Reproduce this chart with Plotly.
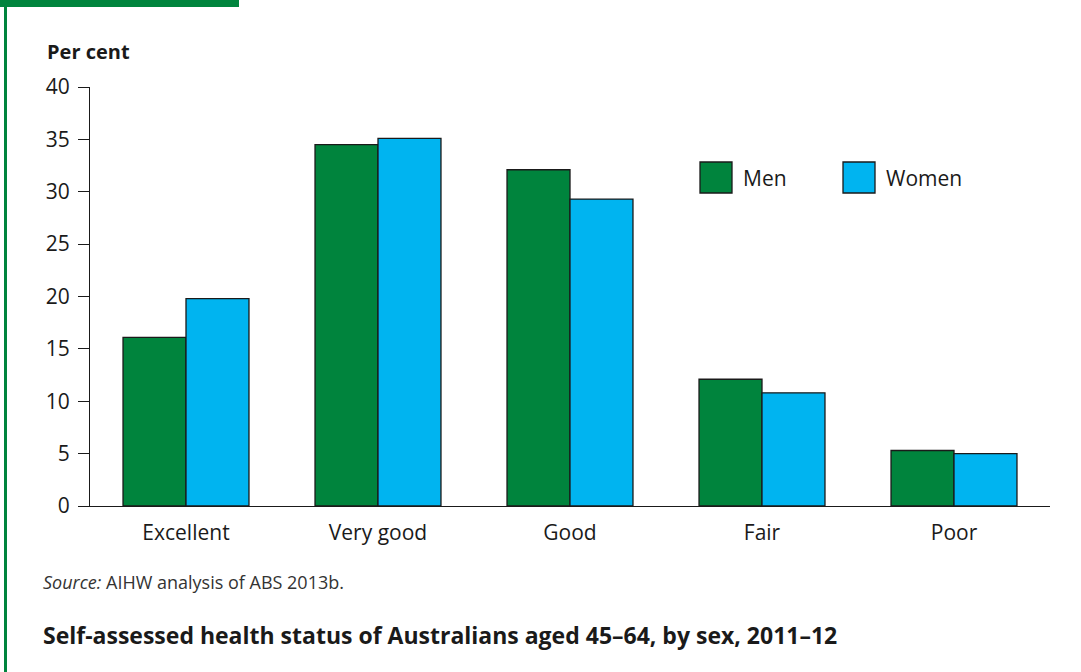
import plotly.graph_objects as go

categories = ["Excellent", "Very good", "Good", "Fair", "Poor"]
men = [16.1, 34.5, 32.1, 12.1, 5.3]
women = [19.8, 35.1, 29.3, 10.8, 5.0]
y_ticks = [0, 5, 10, 15, 20, 25, 30, 35, 40]

GREEN = "#00843D"
BLUE = "#00B4F0"
FONT = "Open Sans"

fig = go.Figure()
fig.add_trace(go.Bar(x=categories, y=men, name="Men", marker=dict(color=GREEN, line=dict(color="#1a1a1a", width=1.3))))
fig.add_trace(go.Bar(x=categories, y=women, name="Women", marker=dict(color=BLUE, line=dict(color="#1a1a1a", width=1.3))))

fig.update_layout(
    width=1081, height=672,
    margin=dict(l=90, r=31, t=87, b=166),
    paper_bgcolor="white", plot_bgcolor="white",
    barmode="group", bargap=0.344, bargroupgap=0,
    showlegend=False,
    font=dict(family=FONT, color="#1a1a1a", size=21),
    xaxis=dict(
        range=[-0.5, 4.5], showline=True, linecolor="#1a1a1a", linewidth=1.3,
        ticks="", tickfont=dict(size=21), ticklabelstandoff=8, fixedrange=True,
    ),
    yaxis=dict(
        range=[0, 40], tickvals=y_ticks, showline=True, linecolor="#1a1a1a", linewidth=1.3,
        ticks="outside", ticklen=11, tickwidth=1.3, tickcolor="#1a1a1a",
        showgrid=False, zeroline=False, tickfont=dict(size=21), ticklabelstandoff=4,
    ),
)

# frame decoration: green tab on top and green rule down the left side
fig.add_shape(type="rect", xref="paper", yref="paper", x0=-90/960, x1=149/960, y0=1 + 80/419, y1=1 + 87/419,
              fillcolor=GREEN, line=dict(width=0), layer="above")
fig.add_shape(type="line", xref="paper", yref="paper", x0=-84.5/960, x1=-84.5/960, y0=-166/419, y1=1 + 87/419,
              line=dict(color=GREEN, width=3))

# legend: coloured boxes with labels
def px_x(p):
    return (p - 90) / 960

def px_y(p):
    return (506 - p) / 419

for x0, color, label in [(700, GREEN, "Men"), (843, BLUE, "Women")]:
    fig.add_shape(type="rect", xref="paper", yref="paper", x0=px_x(x0), x1=px_x(x0 + 32),
                  y0=px_y(193), y1=px_y(162), fillcolor=color, line=dict(color="#1a1a1a", width=1.3))
    fig.add_annotation(xref="paper", yref="paper", x=px_x(x0 + 41), y=px_y(178), text=label,
                       showarrow=False, xanchor="left", yanchor="middle", font=dict(size=21))

fig.add_annotation(xref="paper", yref="paper", x=px_x(45), y=px_y(52), text="<b>Per cent</b>",
                   showarrow=False, xanchor="left", yanchor="middle", font=dict(size=20))
fig.add_annotation(xref="paper", yref="paper", x=px_x(41), y=px_y(582),
                   text="<i>Source:</i> AIHW analysis of ABS 2013b.",
                   showarrow=False, xanchor="left", yanchor="middle", font=dict(size=18, color="#333333"))
fig.add_annotation(xref="paper", yref="paper", x=px_x(41), y=px_y(635),
                   text="<b>Self-assessed health status of Australians aged 45–64, by sex, 2011–12</b>",
                   showarrow=False, xanchor="left", yanchor="middle", font=dict(size=23))

fig.write_html("out.html")
